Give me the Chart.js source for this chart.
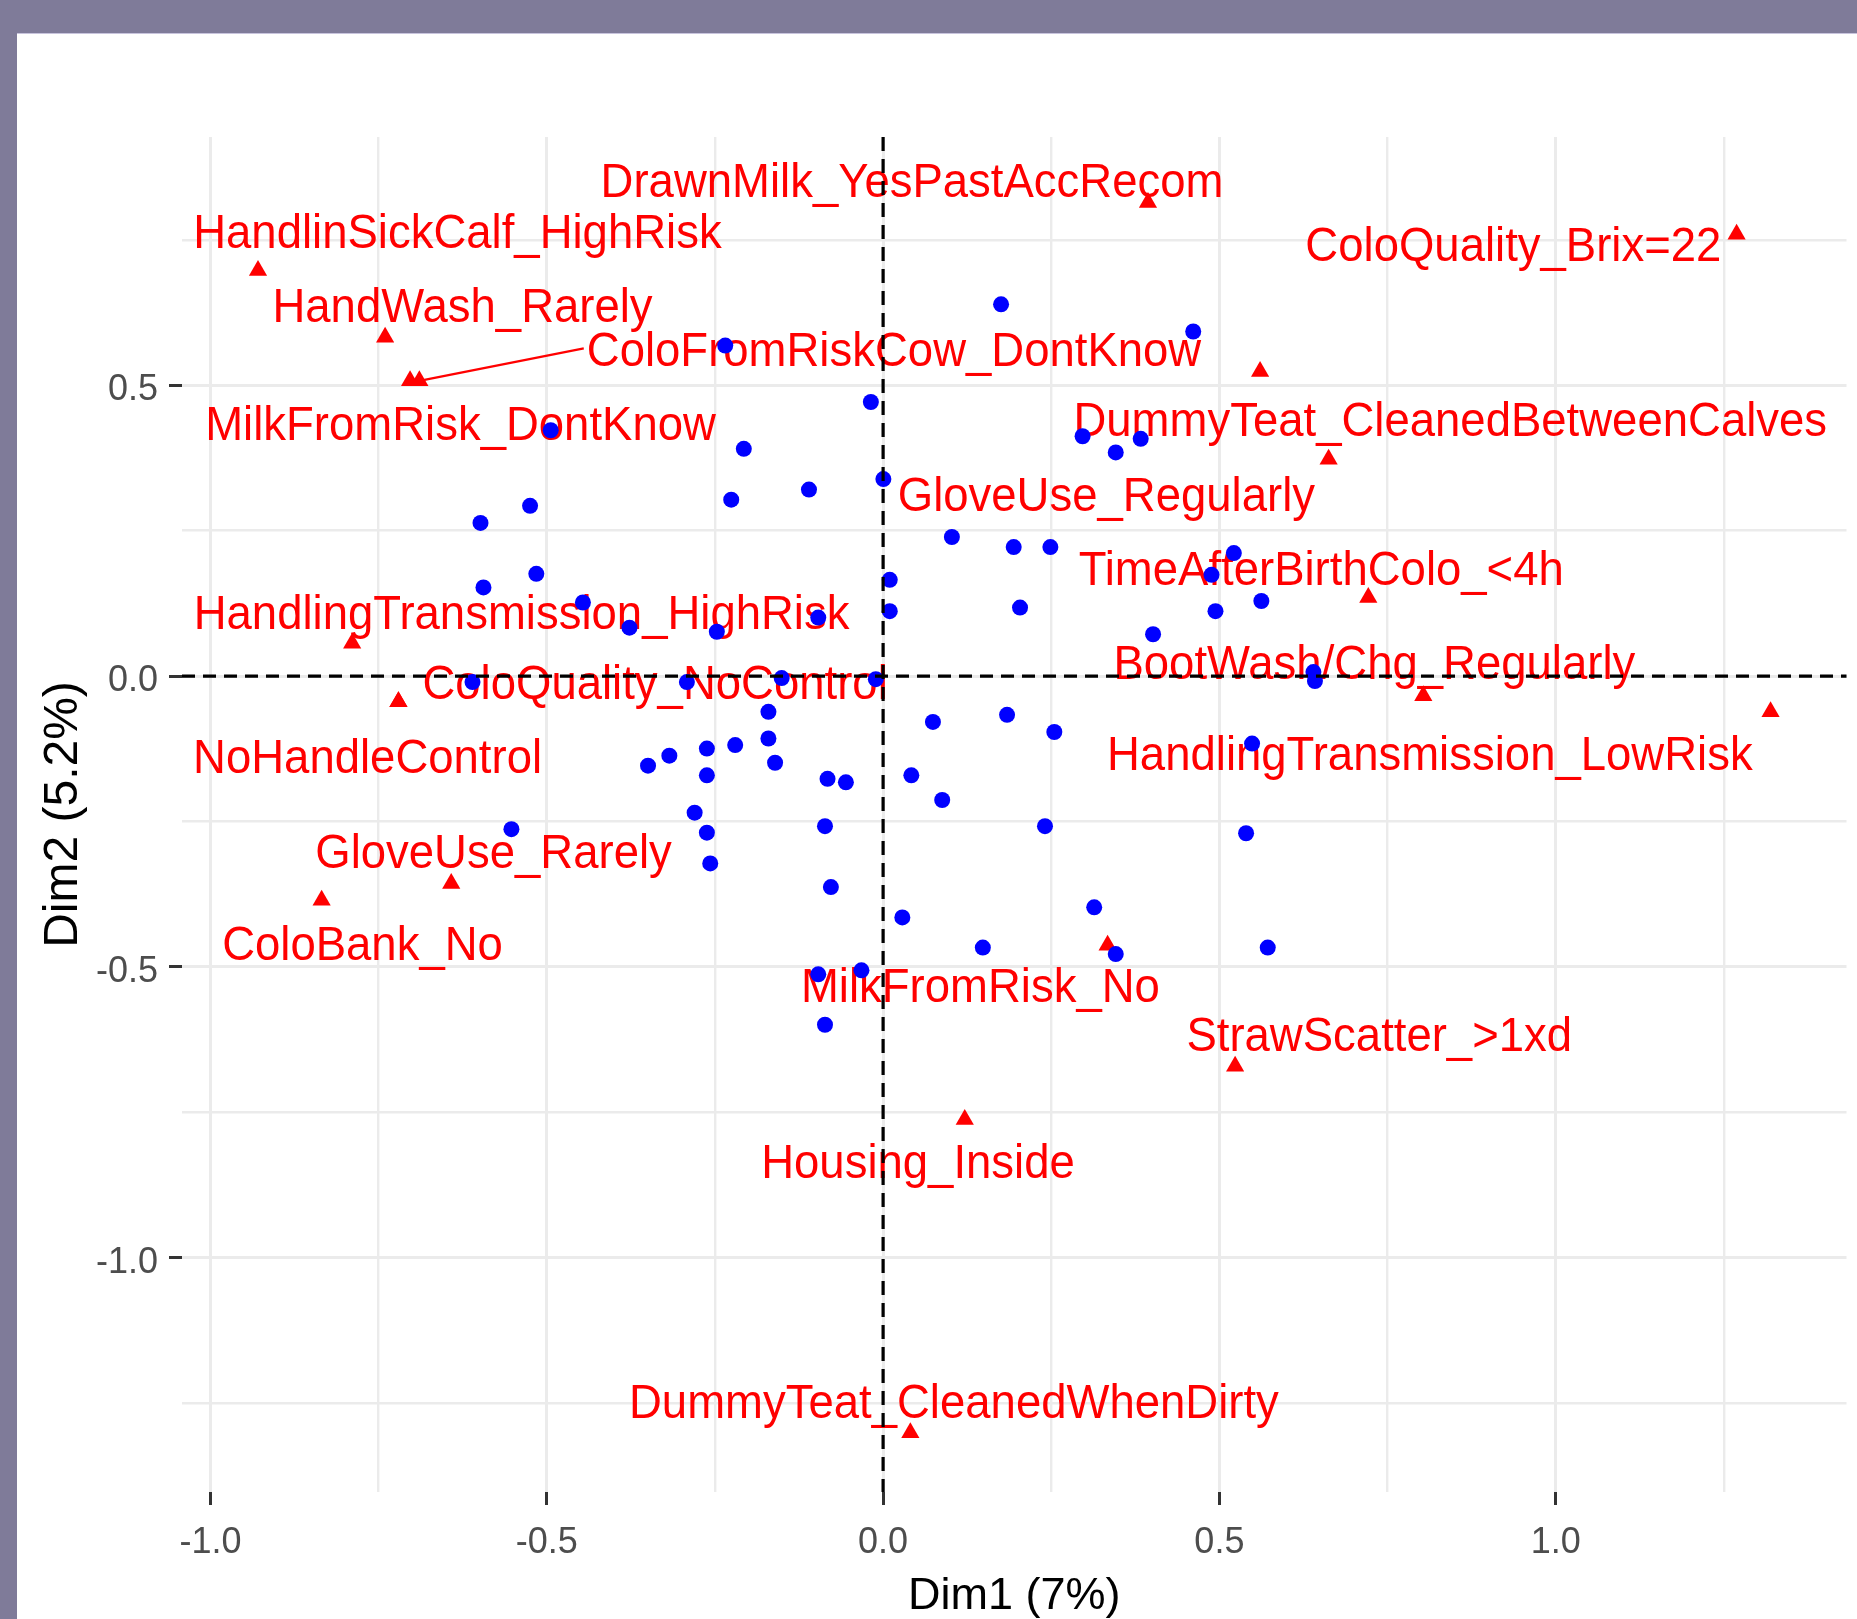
<!DOCTYPE html>
<html>
<head>
<meta charset="utf-8">
<script src="https://cdn.jsdelivr.net/npm/chart.js@4.4.1/dist/chart.umd.min.js"></script>
<style>
  html, body { margin:0; padding:0; width:1857px; height:1619px; overflow:hidden; background:#7F7B99; }
  #panel { position:absolute; left:17px; top:33px; width:1840px; height:1586px; background:#FFFFFF; border-top:1px solid #C8C4DD; box-sizing:border-box; }
  #c { position:absolute; left:0; top:0; width:1857px; height:1619px; }
</style>
</head>
<body>
<div id="panel"></div>
<canvas id="c" width="1857" height="1619"></canvas>
<script>
// ---- Individuals (blue points) ----
const indX = [-0.2347,-0.4942,-0.0182,-0.2071,-0.2258,-0.1102,0.0004,-0.5249,-0.5986,-0.5156,
  -0.5942,-0.4463,-0.3771,-0.2472,-0.0964,0.0099,0.0099,-0.6105,-0.2917,-0.1508,
  -0.0108,-0.1705,-0.1705,-0.1606,-0.3495,-0.3178,-0.2620,-0.2199,-0.2620,-0.0826,
  -0.0553,-0.2802,-0.2620,-0.2570,-0.0864,-0.0776,-0.5526,-0.0964,-0.0322,-0.0864,
  0.0286,0.1754,0.4611,0.2966,0.3459,0.3830,0.1023,0.1942,0.2487,0.5215,
  0.4883,0.4942,0.5624,0.2036,0.4014,0.6398,0.6421,0.0741,0.1843,0.2546,
  0.5486,0.0420,0.0879,0.2407,0.5397,0.1483,0.3139,0.3459,0.5719];
const indY = [0.5682,0.4227,0.4712,0.3908,0.3033,0.3206,0.3387,0.2928,0.2634,0.1759,
  0.1525,0.1265,0.0832,0.0763,0.1006,0.1655,0.1117,-0.0103,-0.0103,-0.0034,
  -0.0052,-0.0614,-0.1073,-0.1489,-0.1540,-0.1367,-0.1246,-0.1186,-0.1705,-0.1766,
  -0.1826,-0.2347,-0.2692,-0.3220,-0.2580,-0.3627,-0.2632,-0.5126,-0.5058,-0.5993,
  -0.4148,0.6392,0.5924,0.4124,0.3846,0.4079,0.2391,0.2218,0.2218,0.2115,
  0.1741,0.1117,0.1291,0.1179,0.0720,0.0070,-0.0084,-0.0787,-0.0665,-0.0961,
  -0.1159,-0.1705,-0.2130,-0.2580,-0.2701,-0.4667,-0.3975,-0.4779,-0.4667];

// ---- Variable categories (red triangles) ----
const catNames = ["DrawnMilk_YesPastAccRecom","ColoQuality_Brix=22","HandlinSickCalf_HighRisk","HandWash_Rarely",
  "ColoFromRiskCow_DontKnow","MilkFromRisk_DontKnow","GloveUse_Regularly","DummyTeat_CleanedBetweenCalves",
  "TimeAfterBirthColo_<4h","HandlingTransmission_HighRisk","BootWash/Chg_Regularly","ColoQuality_NoControl",
  "NoHandleControl","HandlingTransmission_LowRisk","GloveUse_Rarely","ColoBank_No",
  "MilkFromRisk_No","StrawScatter_>1xd","Housing_Inside","DummyTeat_CleanedWhenDirty"];
const catX = [0.3938,1.2690,-0.9294,-0.7404,-0.6895,-0.7033,0.5605,0.6624,0.7214,-0.7894,
  0.8032,-0.7206,-0.7206,1.3195,-0.6421,-0.8348,0.3338,0.5234,0.1214,0.0405];
const catY = [0.8142,0.7597,0.6973,0.5826,0.5076,0.5076,0.5236,0.3729,0.1351,0.0566,
  -0.0339,-0.0442,-0.0442,-0.0614,-0.3565,-0.3853,-0.4626,-0.6708,-0.7624,-1.3009];
// repelled label anchors (text centre) in data units
const labelX = [0.0430,0.9371,-0.6329,-0.6253,0.0162,-0.6283,0.3320,0.8433,0.6514,-0.5375,
  0.7304,-0.3390,-0.7665,0.8129,-0.5792,-0.7740,0.1447,0.7377,0.0519,0.1053];
const labelY = [0.8529,0.7432,0.7655,0.6385,0.5635,0.4354,0.3143,0.4432,0.1858,0.1114,
  0.0242,-0.0101,-0.1370,-0.1313,-0.3003,-0.4580,-0.5302,-0.6141,-0.8332,-1.2460];
const labelSegment = [false,false,false,false,true,false,false,false,false,false,
  false,false,false,false,false,false,false,false,false,false];

// ---- Axes ----
const xTickValues = [-1,-0.75,-0.5,-0.25,0,0.25,0.5,0.75,1,1.25];
const yTickValues = [-1.25,-1,-0.75,-0.5,-0.25,0,0.25,0.5,0.75];
const xTitle = "Dim1 (7%)";
const yTitle = "Dim2 (5.2%)";
const xMin = -1.0424, xMax = 1.4324, yMin = -1.4026, yMax = 0.9268;

const FONT = '"Liberation Sans", Arial, sans-serif';
const isMajor = v => Math.abs(v / 0.5 - Math.round(v / 0.5)) < 1e-9;
const fmt = v => isMajor(v) ? v.toFixed(1) : '';

const labelPlugin = {
  id: 'catLabels',
  beforeDatasetsDraw(chart) {
    const {ctx, scales: {x, y}} = chart;
    const size = 45.5, sy = 1.07;
    const capHalf = size * 0.716 * sy / 2;
    ctx.save();
    ctx.fillStyle = '#FF0000';
    ctx.strokeStyle = '#FF0000';
    ctx.font = size + 'px ' + FONT;
    ctx.textAlign = 'center';
    ctx.textBaseline = 'alphabetic';
    catNames.forEach((name, i) => {
      const px = x.getPixelForValue(labelX[i]);
      const py = y.getPixelForValue(labelY[i]);
      ctx.save();
      ctx.translate(px, py + capHalf);
      ctx.scale(1, sy);
      ctx.fillText(name, 0, 0);
      ctx.restore();
      if (labelSegment[i]) {
        const w = ctx.measureText(name).width;
        ctx.lineWidth = 2.2;
        ctx.beginPath();
        ctx.moveTo(px - w / 2 - 3, py);
        ctx.lineTo(x.getPixelForValue(catX[i]), y.getPixelForValue(catY[i]));
        ctx.stroke();
      }
    });
    ctx.restore();
  },
  afterDatasetsDraw(chart) {
    const {ctx, chartArea: a, scales: {x, y}} = chart;
    ctx.save();
    ctx.strokeStyle = '#000000';
    ctx.lineWidth = 3.2;
    const y0 = y.getPixelForValue(0);
    ctx.setLineDash([13, 8]);
    ctx.beginPath(); ctx.moveTo(a.left, y0); ctx.lineTo(a.right, y0); ctx.stroke();
    const x0 = x.getPixelForValue(0);
    ctx.setLineDash([14, 8]);
    ctx.beginPath(); ctx.moveTo(x0, a.top); ctx.lineTo(x0, a.bottom); ctx.stroke();
    ctx.restore();
  }
};

const gridOpts = {
  color: '#EBEBEB',
  lineWidth: c => (c.tick && isMajor(c.tick.value)) ? 3 : 2.4,
  drawTicks: true,
  tickLength: 13,
  tickWidth: 3,
  tickColor: c => (c.tick && isMajor(c.tick.value)) ? '#333333' : 'rgba(0,0,0,0)'
};

new Chart(document.getElementById('c'), {
  type: 'scatter',
  data: {
    datasets: [
      {
        label: 'Individuals',
        data: indX.map((v, i) => ({x: v, y: indY[i]})),
        pointStyle: 'circle', pointRadius: 8, backgroundColor: '#0000FF', borderWidth: 0, order: 0
      },
      {
        label: 'Categories',
        data: catX.map((v, i) => ({x: v, y: catY[i]})),
        pointStyle: 'triangle', pointRadius: 10.5, backgroundColor: '#FF0000', borderWidth: 0, order: 1
      }
    ]
  },
  options: {
    responsive: false, animation: false, devicePixelRatio: 1, events: [],
    layout: { padding: { top: 137, right: 6, bottom: 0, left: 0 } },
    plugins: { legend: { display: false }, tooltip: { enabled: false } },
    scales: {
      x: {
        type: 'linear', min: xMin, max: xMax,
        afterBuildTicks: s => { s.ticks = xTickValues.map(v => ({value: v})); },
        afterFit: s => { s.height = 127; s.paddingLeft = 0; s.paddingRight = 0; },
        border: { display: false },
        grid: gridOpts,
        ticks: { callback: v => fmt(v), autoSkip: false, maxRotation: 0, minRotation: 0,
                 padding: 16, color: '#4D4D4D', font: { family: FONT, size: 36 } },
        title: { display: true, text: xTitle, color: '#000000', font: { family: FONT, size: 45 },
                 padding: { top: 0, bottom: -5 } }
      },
      y: {
        type: 'linear', min: yMin, max: yMax,
        afterBuildTicks: s => { s.ticks = yTickValues.map(v => ({value: v})); },
        afterFit: s => { s.width = 182; s.paddingTop = 0; s.paddingBottom = 0; },
        border: { display: false },
        grid: gridOpts,
        ticks: { callback: v => fmt(v), autoSkip: false, padding: 11, labelOffset: 5,
                 color: '#4D4D4D', font: { family: FONT, size: 36 } },
        title: { display: true, text: yTitle, color: '#000000', font: { family: FONT, size: 48 },
                 padding: { top: 35, bottom: 0 } }
      }
    }
  },
  plugins: [labelPlugin]
});
</script>
</body>
</html>
